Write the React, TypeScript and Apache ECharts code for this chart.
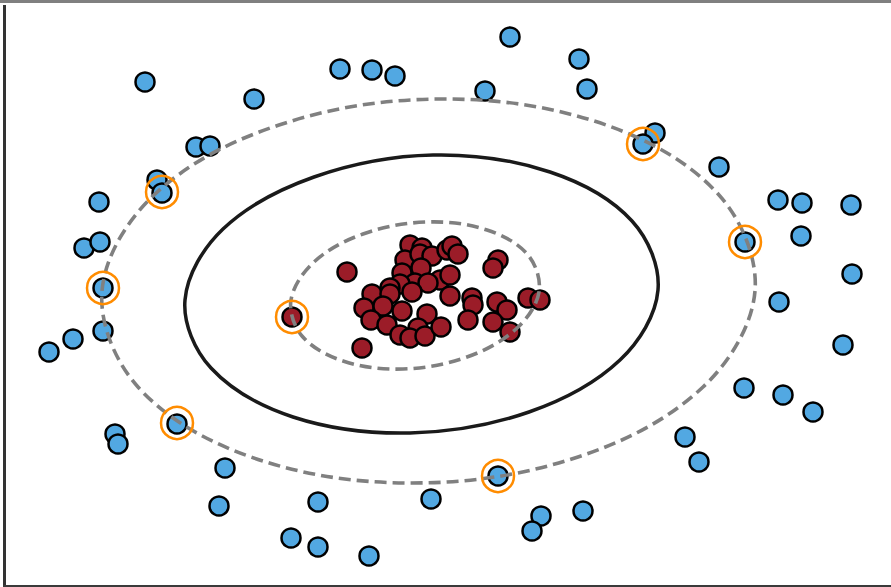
import React, { useEffect, useRef } from "react";
import * as echarts from "echarts";

// Data in the plot's own frame (x: 0..891 left→right, y: 0..587 top→bottom)
const blueClass: number[][] = [
  [145, 82], [254, 99], [340, 69], [372, 70], [395, 76], [510, 37], [579, 59], [587, 89],
  [485, 91], [655, 133], [643, 144], [719, 167], [778, 200], [802, 203], [851, 205],
  [801, 236], [745, 242], [852, 274], [779, 302], [843, 345], [744, 388], [783, 395],
  [813, 412], [685, 437], [699, 462], [498, 476], [583, 511], [541, 516], [532, 531],
  [431, 499], [318, 502], [291, 538], [318, 547], [369, 556], [219, 506], [225, 468],
  [177, 424], [115, 434], [118, 444], [49, 352], [73, 339], [103, 331], [103, 288],
  [84, 248], [100, 242], [99, 202], [157, 180], [162, 193], [196, 147], [210, 146],
];

const redClass: number[][] = [
  [347, 272], [362, 348], [292, 317],
  [410, 245], [422, 248], [405, 260], [420, 254], [432, 256], [447, 250], [452, 246],
  [458, 254], [498, 260], [493, 268],
  [402, 273], [421, 268], [440, 280], [450, 275], [415, 283], [428, 283], [400, 284],
  [390, 288], [372, 294], [390, 294], [412, 292], [450, 296], [472, 298], [473, 305],
  [497, 302], [507, 310], [528, 298], [540, 300],
  [364, 308], [383, 306], [402, 311], [371, 320], [387, 325], [427, 314], [418, 328],
  [400, 335], [410, 338], [425, 336], [441, 327], [468, 320], [493, 322], [510, 332],
];

const supportVectors: number[][] = [
  [643, 144], [745, 242], [498, 476], [177, 423], [103, 288], [162, 192], [292, 317],
];

// Contour points (12 per closed curve)
const marginOuter: number[][] = [
  [755, 291], [703, 387], [578, 457], [412, 483], [251, 457], [138, 387],
  [102, 291], [154, 195], [279, 125], [444, 99], [606, 125], [719, 195],
];

const decisionBoundary: number[][] = [
  [658, 290], [620, 360], [529, 412], [410, 433], [293, 417], [211, 368],
  [185, 300], [223, 229], [314, 177], [433, 155], [550, 172], [632, 221],
];

const marginInner: number[][] = [
  [539, 292], [516, 329], [467, 357], [403, 369], [343, 361], [302, 336],
  [291, 300], [314, 262], [363, 234], [427, 222], [487, 230], [528, 255],
];

const contours = [
  { pts: marginOuter, color: "#808080", width: 3.6, dash: [12, 6] },
  { pts: decisionBoundary, color: "#1a1a1a", width: 3.5, dash: null as number[] | null },
  { pts: marginInner, color: "#808080", width: 3.6, dash: [12, 6] },
];

export default function App() {
  const ref = useRef<HTMLDivElement>(null);
  useEffect(() => {
    if (!ref.current) return;
    const chart = echarts.init(ref.current, undefined, { renderer: "svg" });
    chart.setOption({
      animation: false,
      backgroundColor: "#ffffff",
      grid: { left: 0, right: 0, top: 0, bottom: 0 },
      xAxis: { type: "value", min: 0, max: 891, show: false },
      yAxis: { type: "value", min: 0, max: 587, inverse: true, show: false },
      series: [
        {
          type: "scatter",
          data: blueClass,
          symbolSize: 19,
          z: 2,
          itemStyle: { color: "#52a8e2", borderColor: "#000", borderWidth: 2.5, opacity: 1 },
        },
        {
          type: "scatter",
          data: redClass,
          symbolSize: 19,
          z: 2,
          itemStyle: { color: "#9b1c28", borderColor: "#000", borderWidth: 2.5, opacity: 1 },
        },
        {
          type: "custom",
          z: 3,
          data: contours.map((_, i) => [i]),
          renderItem: (params: any, api: any) => {
            const c = contours[params.dataIndex];
            const pts = c.pts.map((p) => api.coord(p));
            return {
              type: "polygon",
              shape: { points: pts, smooth: 0.35 },
              style: {
                fill: "none",
                stroke: c.color,
                lineWidth: c.width,
                lineDash: c.dash || undefined,
              },
            };
          },
        },
        {
          type: "scatter",
          data: supportVectors,
          symbolSize: 32,
          z: 4,
          itemStyle: { color: "rgba(0,0,0,0)", borderColor: "#ff8c00", borderWidth: 2.5, opacity: 1 },
        },
      ],
      graphic: [
        { type: "rect", z: 10, shape: { x: 0, y: 0, width: 891, height: 3 }, style: { fill: "#808080" } },
        { type: "rect", z: 10, shape: { x: 3, y: 5, width: 3, height: 582 }, style: { fill: "#333333" } },
        { type: "rect", z: 10, shape: { x: 3, y: 585, width: 888, height: 2 }, style: { fill: "#3a3a3a" } },
      ],
    });
    return () => chart.dispose();
  }, []);
  return (
    <div
      ref={ref}
      style={{ position: "fixed", left: 0, top: 0, width: 891, height: 587, background: "#fff" }}
    />
  );
}
